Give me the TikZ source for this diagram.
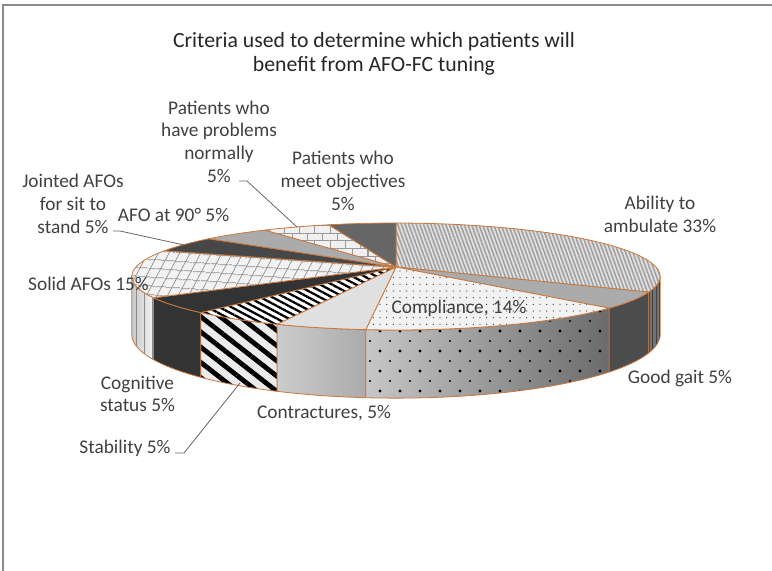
\documentclass[tikz,border=0pt]{standalone}
\usepackage{fontspec}
\setmainfont{Carlito}
\usepackage{tikz}
\usetikzlibrary{patterns,patterns.meta,positioning}
\definecolor{edge}{RGB}{200,120,62}
\definecolor{txt}{RGB}{64,64,64}

\begin{document}
\begin{tikzpicture}[x=0.75pt,y=-0.75pt,samples=30,
	declare function={px(\t)=396+260*sin(\t)/(1+0.178*cos(\t));
		py(\t)=267-51.8*cos(\t)/(1+0.178*cos(\t));
		pb(\t)=py(\t)+56/(1+0.178*cos(\t));},
	slice/.style={draw=edge, line width=0.6pt, line join=round},
	lbl/.style={text=txt, align=center, inner sep=0pt, font=\fontsize{14.5}{17}\selectfont},
	leader/.style={draw=black!60, line width=0.6pt}]
	\useasboundingbox (0,0) rectangle (772,571);
	\draw [black!45, line width=0.9pt] (3,571) -- (3,5) -- (772,5);
	\coordinate (c) at (396,267);
	
	% side of the pie
	\path [slice, preaction={fill=black!55}, pattern={Lines[angle=90,distance=2.4pt,line width=0.6pt]}, pattern color=black!75]
	plot[domain=100.3:116.5] ({px(\x)},{py(\x)}) -- plot[domain=116.5:100.3] ({px(\x)},{pb(\x)}) -- cycle;
	\path [slice, fill=black!70]
	plot[domain=116.5:134.1] ({px(\x)},{py(\x)}) -- plot[domain=134.1:116.5] ({px(\x)},{pb(\x)}) -- cycle;
	\path [slice, preaction={left color=black!22, right color=black!58},
	preaction={pattern={Dots[radius=1.2pt,distance=15pt]}, pattern color=black},
	pattern={Dots[radius=0.9pt,distance=15pt,xshift=7.5pt,yshift=7.5pt]}, pattern color=black]
	plot[domain=134.1:185.5] ({px(\x)},{py(\x)}) -- plot[domain=185.5:134.1] ({px(\x)},{pb(\x)}) -- cycle;
	\path [slice, left color=black!20, right color=black!33]
	plot[domain=185.5:202.5] ({px(\x)},{py(\x)}) -- plot[domain=202.5:185.5] ({px(\x)},{pb(\x)}) -- cycle;
	\path [slice, preaction={fill=black!8}, pattern={Lines[angle=-38,distance=9pt,line width=3.6pt]}, pattern color=black]
	plot[domain=202.5:220.5] ({px(\x)},{py(\x)}) -- plot[domain=220.5:202.5] ({px(\x)},{pb(\x)}) -- cycle;
	\path [slice, fill=black!80]
	plot[domain=220.5:237.5] ({px(\x)},{py(\x)}) -- plot[domain=237.5:220.5] ({px(\x)},{pb(\x)}) -- cycle;
	\path [slice, preaction={left color=black!22, right color=black!4}, pattern={Lines[angle=90,distance=6pt,line width=0.5pt]}, pattern color=black!45]
	plot[domain=237.5:259.8] ({px(\x)},{py(\x)}) -- plot[domain=259.8:237.5] ({px(\x)},{pb(\x)}) -- cycle;
	
	% top of the pie
	\path [slice, preaction={fill=black!12}, pattern={Lines[angle=-70,distance=2.6pt,line width=1.1pt]}, pattern color=black!38]
	(c) -- plot[domain=0:116.5] ({px(\x)},{py(\x)}) -- cycle;
	\path [slice, fill=black!33] (c) -- plot[domain=116.5:134.1] ({px(\x)},{py(\x)}) -- cycle;
	\path [slice, preaction={fill=black!5}, pattern={Dots[radius=0.45pt,distance=5pt]}, pattern color=black!80]
	(c) -- plot[domain=134.1:185.5] ({px(\x)},{py(\x)}) -- cycle;
	\path [slice, fill=black!12] (c) -- plot[domain=185.5:202.5] ({px(\x)},{py(\x)}) -- cycle;
	\path [slice, preaction={fill=white}, pattern={Lines[angle=-28,distance=4.2pt,line width=1.7pt]}, pattern color=black]
	(c) -- plot[domain=202.5:220.5] ({px(\x)},{py(\x)}) -- cycle;
	\path [slice, fill=black!80] (c) -- plot[domain=220.5:237.5] ({px(\x)},{py(\x)}) -- cycle;
	\path [slice, preaction={fill=black!5}, preaction={pattern={Lines[angle=-4,distance=6.5pt,line width=0.5pt]}, pattern color=black!45}, pattern={Lines[angle=62,distance=7pt,line width=0.5pt]}, pattern color=black!45]
	(c) -- plot[domain=237.5:289.4] ({px(\x)},{py(\x)}) -- cycle;
	\path [slice, fill=black!72] (c) -- plot[domain=289.4:307.1] ({px(\x)},{py(\x)}) -- cycle;
	\path [slice, fill=black!33] (c) -- plot[domain=307.1:324.7] ({px(\x)},{py(\x)}) -- cycle;
	\path [slice, preaction={fill=black!6}, pattern=bricks, pattern color=black!40]
	(c) -- plot[domain=324.7:342.4] ({px(\x)},{py(\x)}) -- cycle;
	\path [slice, fill=black!60] (c) -- plot[domain=342.4:360] ({px(\x)},{py(\x)}) -- cycle;
	
	% title and labels
	\node (title) [align=center, text=black!85, font=\fontsize{16.3}{18}\selectfont] at (374,54)
	{Criteria used to determine which patients will\\ benefit from AFO-FC tuning};
	\node (ability) [lbl] at (660,214.5) {Ability to\\ ambulate 33\%};
	\node (compliance) [lbl] at (459,308) {Compliance, 14\%};
	\node (gait) [lbl] at (680,378) {Good gait 5\%};
	\node (contract) [lbl] at (324,413) {Contractures, 5\%};
	\node (stability) [lbl] at (125,448) {Stability 5\%};
	\node (cognitive) [lbl] at (137.5,394) {Cognitive\\ status 5\%};
	\node (solid) [lbl] at (88.5,284) {Solid AFOs 15\%};
	\node (jointed) [lbl] at (73,204) {Jointed AFOs\\ for sit to\\ stand 5\%};
	\node (afo90) [lbl] at (173.5,215) {AFO at 90° 5\%};
	\node (problems) [lbl] at (219,141.5) {Patients who\\ have problems\\ normally\\ 5\%};
	\node (meet) [lbl] at (343,181) {Patients who\\ meet objectives\\ 5\%};
	
	% leader lines
	\coordinate (problemsS) at (239,181);
	\coordinate (problemsT) at (297,227);
	\coordinate (jointedS) at (113,231);
	\coordinate (jointedT) at (184,245);
	\coordinate (stabilityS) at (175,453);
	\coordinate (stabilityT) at (240,383);
	\draw [leader] (problemsS) -- ++(8,0) -- (problemsT);
	\draw [leader] (jointedS) -- ++(7,0) -- (jointedT);
	\draw [leader] (stabilityS) -- ++(9,0) -- (stabilityT);
\end{tikzpicture}
\end{document}
